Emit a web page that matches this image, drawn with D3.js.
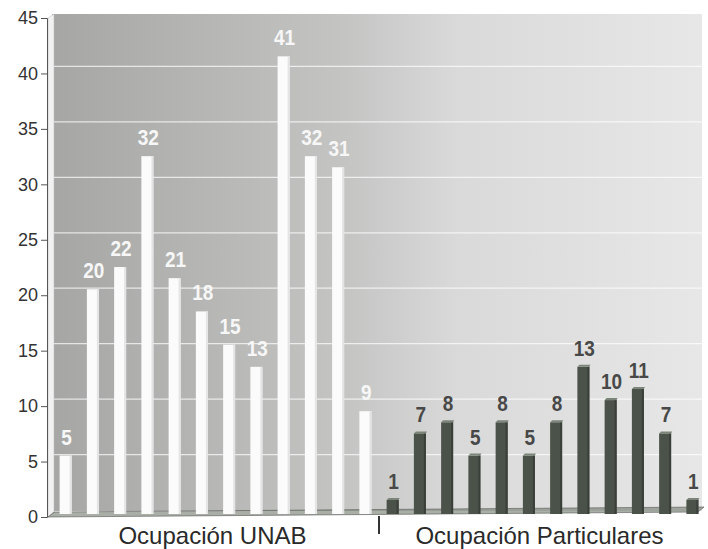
<!DOCTYPE html>
<html><head><meta charset="utf-8">
<script src="https://cdn.jsdelivr.net/npm/d3@7"></script>
<style>body{margin:0;background:#fff}svg{display:block}</style>
</head><body>
<svg id="c" width="708" height="549"></svg>
<script>
const unabCats = ["U1","U2","U3","U4","U5","U6","U7","U8","U9","U10","U11","U12"];
const unabValues = [5,20,22,32,21,18,15,13,41,32,31,9];
const partCats = ["P1","P2","P3","P4","P5","P6","P7","P8","P9","P10","P11","P12"];
const partValues = [1,7,8,5,8,5,8,13,10,11,7,1];
const groupLabels = ["Ocupación UNAB","Ocupación Particulares"];
const yTicks = [0,5,10,15,20,25,30,35,40,45];

const svg = d3.select("#c");
const font = "'Liberation Sans', Arial, sans-serif";

const cats = unabCats.concat(partCats);
const rows = cats.map((c,i)=>({cat:c, v: i<12 ? unabValues[i] : partValues[i-12], g: i<12?0:1}));

const x = d3.scaleBand().domain(cats).range([52,706]).paddingInner(0.56).paddingOuter(0.28);
const y = d3.scaleLinear().domain([0,45]).range([517,18]);
const lift = 6; // 3D lift of bar tops

// background gradient
const defs = svg.append("defs");
const grad = defs.append("linearGradient").attr("id","bg").attr("x1","0").attr("x2","1").attr("y1","0").attr("y2","0");
grad.append("stop").attr("offset","0").attr("stop-color","#a6a7a5");
grad.append("stop").attr("offset","0.45").attr("stop-color","#c4c5c3");
grad.append("stop").attr("offset","0.62").attr("stop-color","#d8d9d8");
grad.append("stop").attr("offset","1").attr("stop-color","#e6e7e6");

const depth = 7;
svg.append("rect").attr("x",52).attr("y",y(45)-4).attr("width",650).attr("height",y(0)-y(45)-2)
  .attr("fill","url(#bg)");

// left wall
svg.append("path").attr("d",`M48,${y(45)} L54,${y(45)-4} L54,${y(0)-4} L48,${y(0)} Z`).attr("fill","#f2f2f2").attr("stroke","#bbb").attr("stroke-width",0.5);

// gridlines on back wall
svg.append("g").selectAll("line").data(yTicks.filter(t=>t>0&&t<45)).join("line")
  .attr("x1",54).attr("x2",702)
  .attr("y1",d=>y(d)-depth).attr("y2",d=>y(d)-depth)
  .attr("stroke","#ffffff").attr("stroke-opacity",0.7).attr("stroke-width",1.2);

// floor
svg.append("path").attr("d",`M48,${y(0)} L698,${y(0)-5} L704,${y(0)-10} L54,${y(0)-5} Z`)
  .attr("fill","#6f7a6c").attr("fill-opacity",0.6).attr("stroke","#555").attr("stroke-width",0.6);

// bars
const barG = svg.append("g");
rows.forEach(r=>{
  const bx = x(r.cat), bw = x.bandwidth();
  const top = y(r.v)-lift, base = y(0)-3;
  if(r.g===0){
    barG.append("rect").attr("x",bx).attr("y",top).attr("width",bw).attr("height",base-top).attr("fill","#fbfbfb");
    barG.append("rect").attr("x",bx+bw-2).attr("y",top).attr("width",2).attr("height",base-top).attr("fill","#e4e4e4");
  } else {
    barG.append("rect").attr("x",bx).attr("y",top).attr("width",bw).attr("height",base-top).attr("fill","#4b5249");
    barG.append("rect").attr("x",bx+bw-2).attr("y",top).attr("width",2).attr("height",base-top).attr("fill","#3a4039");
    barG.append("path").attr("d",`M${bx},${top} L${bx+2},${top-2} L${bx+bw+1},${top-2} L${bx+bw},${top} Z`).attr("fill","#7c8579");
  }
});

// value labels
svg.append("g").selectAll("text").data(rows).join("text")
  .attr("transform",d=>`translate(${x(d.cat)+x.bandwidth()/2+1},${y(d.v)-lift-11}) scale(1,1.15)`)
  .attr("text-anchor","middle")
  .attr("font-family",font).attr("font-weight","bold").attr("font-size",19)
  .attr("fill",d=>d.g===0?"#f7f7f7":"#484848")
  .text(d=>d.v);

// y axis
const yAxis = d3.axisLeft(y).tickValues(yTicks).tickSize(6).tickPadding(3).tickFormat(d3.format("d"));
const ag = svg.append("g").attr("transform","translate(47,0)").call(yAxis);
ag.select(".domain").attr("stroke","#555");
ag.selectAll(".tick line").attr("stroke","#555");
ag.selectAll(".tick text").attr("font-family",font).attr("font-size",18).attr("fill","#333");

// group labels
const gx = [ (x(unabCats[0])+x(unabCats[11])+x.bandwidth())/2, (x(partCats[0])+x(partCats[11])+x.bandwidth())/2 ];
svg.append("g").selectAll("text").data(groupLabels).join("text")
  .attr("x",(d,i)=>gx[i]+(i===0?-3:-3)).attr("y",544)
  .attr("text-anchor","middle").attr("font-family",font).attr("font-size",24).attr("fill","#2a2a2a")
  .text(d=>d);
// separator
const sepX = (x(unabCats[11])+x.bandwidth()+x(partCats[0]))/2;
svg.append("line").attr("x1",sepX).attr("x2",sepX).attr("y1",516).attr("y2",534).attr("stroke","#333").attr("stroke-width",2);
</script>
</body></html>
